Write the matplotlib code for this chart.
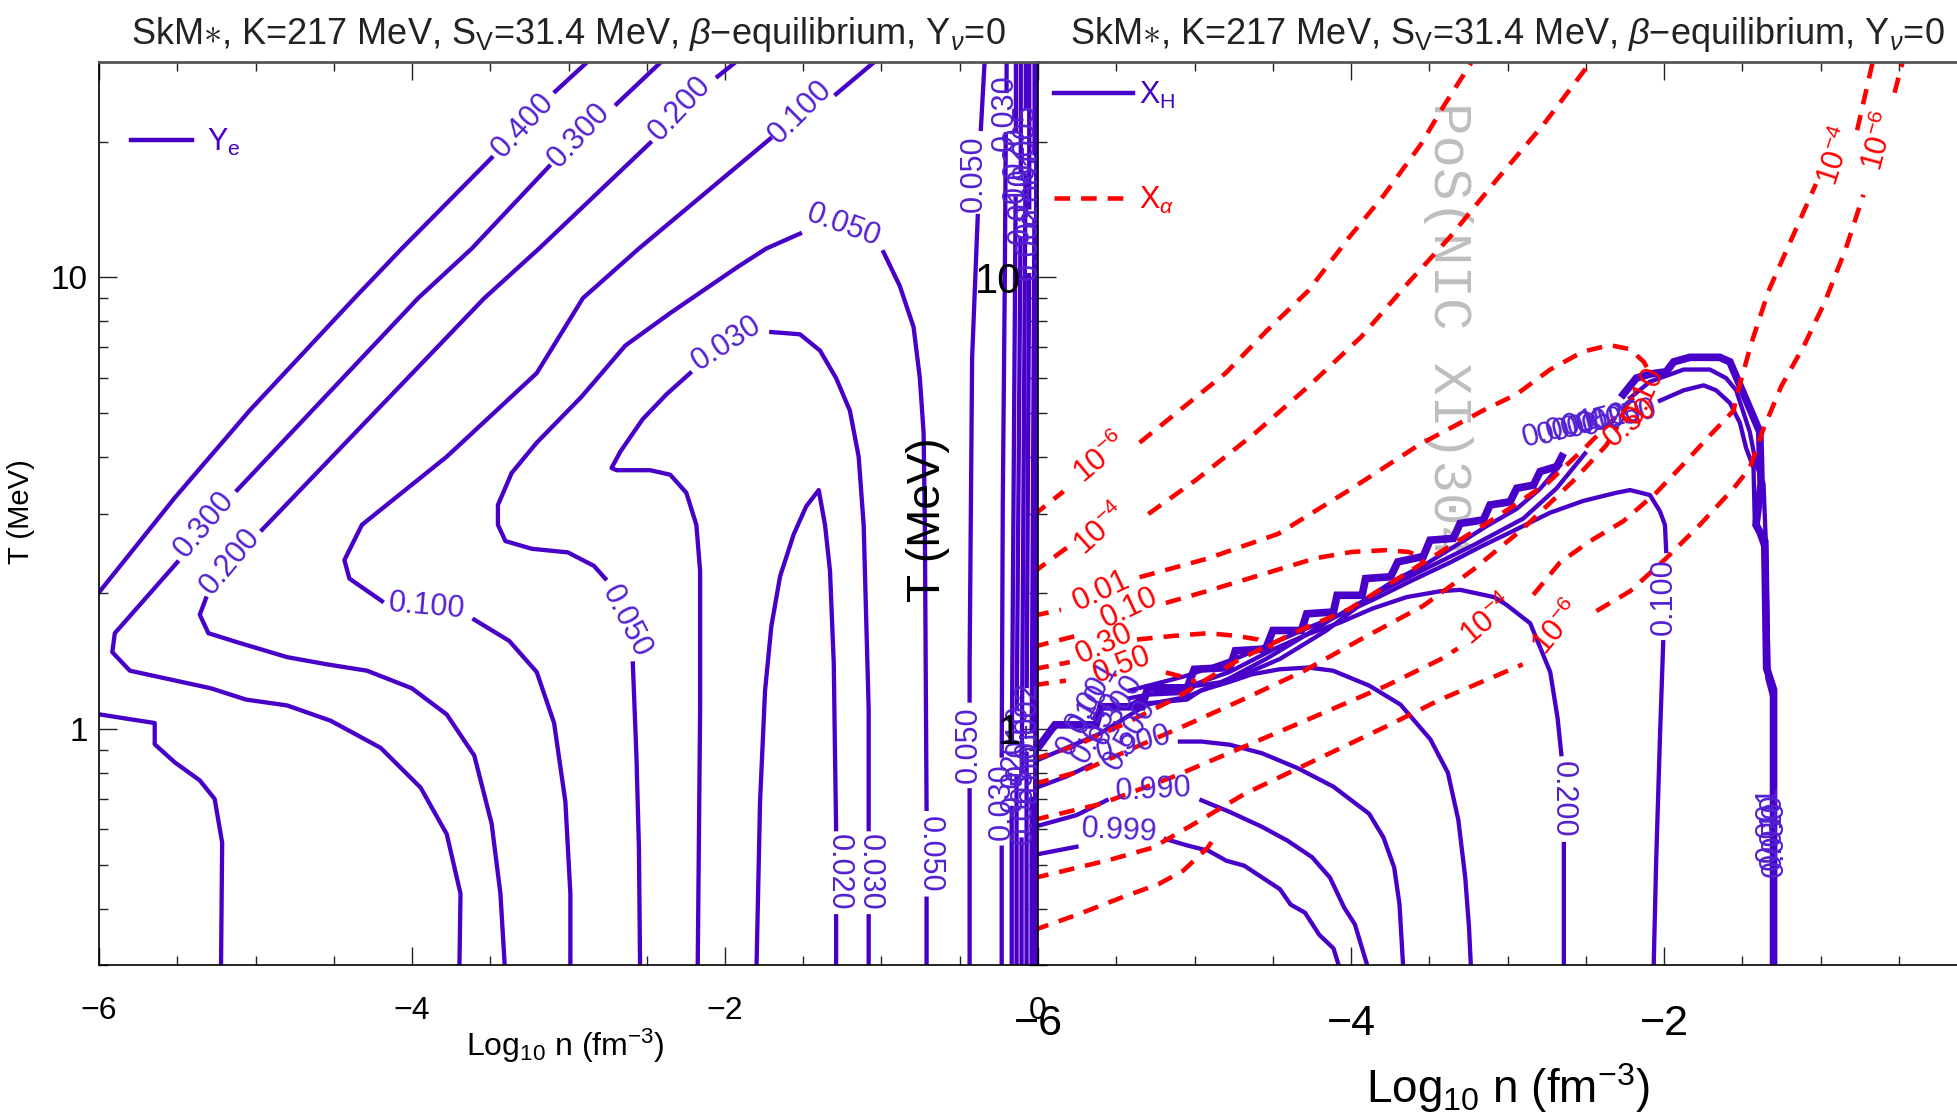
import numpy as np
import matplotlib
matplotlib.use("Agg")
import matplotlib.pyplot as plt
from matplotlib import font_manager
from matplotlib.lines import Line2D
from matplotlib.ticker import FixedLocator, FixedFormatter, MultipleLocator, NullFormatter

nan = np.nan

# ---------------- left panel: Y_e contours (log10 n, log10 T) ----------------
ye_400_n = [-2.81, -2.877, -3.084, nan, -3.491, -4.065, -4.368, -5.038, -5.516, -5.994, -6.05]
ye_400_lt = [1.50, 1.478, 1.412, nan, 1.265, 1.064, 0.954, 0.705, 0.512, 0.305, 0.281]

ye_300_n = [-2.34, -2.406, -2.693, nan, -3.124, -3.618, -3.961, -5.117, nan, -5.5, -5.899, -5.915,
            -5.803, -5.285, -5.061, -4.798, -4.519, -4.200, -3.945, -3.778, -3.690, -3.698]
ye_300_lt = [1.50, 1.478, 1.384, nan, 1.246, 1.064, 0.954, 0.529, nan, 0.369, 0.212, 0.170,
             0.129, 0.090, 0.065, 0.052, 0.018, -0.042, -0.130, -0.233, -0.365, -0.55]

ye_200_n = [-1.85, -1.928, -2.047, nan, -2.478, -3.188, -3.538, -4.958, nan, -5.317, -5.356, -5.301,
            -5.117, -4.798, -4.543, -4.288, -4.001, -3.778, -3.602, -3.491, -3.435, -3.403]
ye_200_lt = [1.50, 1.478, 1.445, nan, 1.298, 1.064, 0.954, 0.441, nan, 0.289, 0.253, 0.212,
             0.192, 0.159, 0.143, 0.129, 0.090, 0.032, -0.059, -0.210, -0.365, -0.55]

ye_100_n = [-0.968, -1.043, -1.290, nan, -1.712, -2.550, -2.908, -3.203, -3.778, -4.320, -4.432, -4.400,
            -4.192, nan, -3.602, -3.379, -3.203, -3.092, -3.020, -2.988, -2.988]
ye_100_lt = [1.50, 1.478, 1.406, nan, 1.307, 1.064, 0.954, 0.788, 0.603, 0.452, 0.374, 0.333,
             0.283, nan, 0.242, 0.195, 0.126, 0.013, -0.161, -0.365, -0.55]

ye_050_n = [-2.542, -2.550, -2.566, -2.589, nan, -2.765, -2.837, -3.004, -3.235, -3.403, -3.451, -3.451,
            -3.363, -3.203, -2.916, -2.637, -2.350, -1.920, -1.736, -1.521, nan, -0.987, -0.883,
            -0.795, -0.755, -0.731, -0.723, -0.712, nan, -0.712, -0.712]
ye_050_lt = [-0.55, -0.263, -0.059, 0.145, nan, 0.333, 0.361, 0.391, 0.399, 0.416, 0.452, 0.496,
             0.567, 0.634, 0.736, 0.849, 0.921, 1.023, 1.064, 1.097, nan, 1.056, 0.981,
             0.890, 0.777, 0.656, 0.452, -0.177, nan, -0.376, -0.55]

ye_030_n = [-2.175, -2.159, -2.159, -2.183, -2.247, -2.350, -2.478, -2.693, -2.725, -2.669, -2.526,
            -2.374, -2.223, nan, -1.704, -1.521, -1.393, -1.290, -1.202, -1.146, -1.114, -1.098,
            -1.082, -1.082, nan, -1.082, -1.082]
ye_030_lt = [-0.55, 0.043, 0.350, 0.452, 0.523, 0.563, 0.573, 0.573, 0.578, 0.614, 0.686,
             0.741, 0.788, nan, 0.879, 0.874, 0.838, 0.777, 0.705, 0.603, 0.452, 0.247,
             0.043, -0.222, nan, -0.415, -0.55]

ye_020_n = [-1.800, -1.776, -1.744, -1.704, -1.648, -1.561, -1.481, -1.401, -1.361, -1.329, -1.305,
            -1.297, -1.290, nan, -1.290, -1.290]
ye_020_lt = [-0.55, -0.161, 0.085, 0.227, 0.338, 0.431, 0.493, 0.529, 0.452, 0.350, 0.145,
             -0.059, -0.222, nan, -0.415, -0.55]

ye_low_n = [-6.05, -5.994, -5.644, -5.644, -5.516, -5.356, -5.261, -5.213, -5.221]
ye_low_lt = [0.034, 0.032, 0.013, -0.034, -0.074, -0.114, -0.155, -0.252, -0.55]

# near-saturation bundle close to log n = 0
ye_c050_n = [-0.437, -0.437, nan, -0.437, -0.437, -0.421, -0.385, nan, -0.365, -0.341, -0.338]
ye_c050_lt = [-0.55, -0.136, nan, 0.063, 0.145, 0.821, 1.136, nan, 1.329, 1.478, 1.52]
ye_c030_n = [-0.232, -0.232, nan, -0.232, -0.225, -0.212, -0.206, nan, -0.201, -0.200]
ye_c030_lt = [-0.55, -0.263, nan, -0.059, 0.5, 1.0, 1.317, nan, 1.413, 1.52]
ye_c1_n = [-0.168, -0.168, nan, -0.167, -0.143, nan, -0.141, -0.141]
ye_c1_lt = [-0.55, -0.175, nan, -0.025, 1.175, nan, 1.325, 1.52]
ye_c2_n = [-0.137, -0.137, nan, -0.136, -0.112, nan, -0.110, -0.110]
ye_c2_lt = [-0.55, -0.105, nan, 0.045, 1.085, nan, 1.235, 1.52]
ye_c3_n = [-0.105, -0.105, nan, -0.104, -0.080, nan, -0.078, -0.078]
ye_c3_lt = [-0.55, -0.245, nan, -0.095, 1.225, nan, 1.375, 1.52]
ye_c4_n = [-0.073, -0.073, nan, -0.072, -0.057, nan, -0.056, -0.056]
ye_c4_lt = [-0.55, -0.055, nan, 0.095, 1.005, nan, 1.155, 1.52]
ye_c5_n = [-0.041, -0.041, nan, -0.040, -0.023, nan, -0.022, -0.022]
ye_c5_lt = [-0.55, -0.155, nan, -0.005, 1.125, nan, 1.275, 1.52]
ye_c6_n = [-0.020, -0.010]
ye_c6_lt = [-0.55, 1.52]

ye_labels = [
    ("0.400", -3.291, 1.337, 47), ("0.300", -2.932, 1.314, 47), ("0.300", -5.330, 0.452, 50),
    ("0.200", -2.286, 1.373, 47), ("0.200", -5.159, 0.370, 50), ("0.100", -1.521, 1.367, 45),
    ("0.100", -3.905, 0.272, -5), ("0.050", -2.634, 0.237, -63), ("0.050", -1.242, 1.114, -20),
    ("0.050", -0.692, -0.277, -90), ("0.030", -1.991, 0.854, 33), ("0.030", -1.074, -0.318, -90),
    ("0.020", -1.273, -0.318, -90), ("0.050", -0.41, 1.229, 90), ("0.050", -0.44, -0.036, 90),
    ("0.030", -0.215, 1.365, 90), ("0.030", -0.232, -0.161, 90),
    ("0.020", -0.155, -0.10, 90), ("0.020", -0.142, 1.25, 90), ("0.010", -0.125, -0.03, 90),
    ("0.010", -0.111, 1.16, 90), ("0.005", -0.092, -0.17, 90), ("0.005", -0.079, 1.30, 90),
    ("0.002", -0.064, 0.02, 90), ("0.002", -0.056, 1.08, 90), ("0.001", -0.031, -0.08, 90),
    ("0.001", -0.022, 1.20, 90),
]

# ---------------- right panel: X_H (solid) ----------------
xh_999_n = [-6.03, -5.994, -5.754, nan, -5.184, -5.047, -4.910, -4.796, -4.682, -4.568, -4.454,
            -4.386, -4.294, -4.203, -4.112, -4.077, -4.055]
xh_999_lt = [-0.28, -0.277, -0.261, nan, -0.244, -0.258, -0.270, -0.292, -0.303, -0.329, -0.355,
             -0.389, -0.407, -0.456, -0.486, -0.525, -0.55]
xh_990_n = [-6.03, -5.994, -5.754, -5.561, nan, -4.956, -4.774, -4.568, -4.408, -4.249, -4.135,
            -4.043, -3.975, -3.895, -3.88]
xh_990_lt = [-0.217, -0.214, -0.191, -0.158, nan, -0.158, -0.184, -0.217, -0.247, -0.284, -0.329,
             -0.396, -0.433, -0.525, -0.55]
xh_900_n = [-6.03, -5.994, -5.823, -5.663, nan, -5.093, -4.956, -4.774, -4.568, -4.340, -4.112,
            -3.884, -3.793, -3.724, -3.690, -3.667, -3.665]
xh_900_lt = [-0.131, -0.128, -0.106, -0.080, nan, -0.028, -0.028, -0.035, -0.054, -0.087, -0.128,
             -0.188, -0.240, -0.307, -0.389, -0.525, -0.55]
xh_500_n = [-5.415, -5.295, -5.048, -4.960, -4.777, -4.633, -4.458, -4.274, -4.115, -3.884, -3.684,
            -3.493, -3.381, -3.314, -3.270, -3.246, -3.234, -3.233]
xh_500_lt = [0.049, 0.057, 0.065, 0.085, 0.104, 0.121, 0.132, 0.136, 0.129, 0.096, 0.054,
             -0.023, -0.097, -0.202, -0.329, -0.439, -0.525, -0.55]
xh_200_n = [-5.415, -5.048, -4.777, -4.498, -4.282, -4.067, -3.860, -3.644, -3.429, -3.302, -3.086,
            -3.007, -2.855, -2.727, -2.680, -2.656, nan, -2.640, -2.640]
xh_200_lt = [0.068, 0.093, 0.126, 0.176, 0.209, 0.236, 0.267, 0.292, 0.305, 0.308, 0.292,
             0.275, 0.234, 0.126, 0.024, -0.056, nan, -0.255, -0.55]
xh_100_n = [-5.415, -5.048, -4.713, -4.498, -4.282, -4.067, -3.860, -3.621, -3.365, -3.158, -2.943,
            -2.727, -2.516, -2.305, -2.217, -2.090, -2.026, -1.994, -1.986, nan, -2.005, -2.026,
            -2.050, -2.066, -2.067]
xh_100_lt = [0.085, 0.118, 0.159, 0.190, 0.223, 0.253, 0.286, 0.327, 0.369, 0.406, 0.442,
             0.479, 0.505, 0.523, 0.529, 0.518, 0.482, 0.452, 0.394, nan, 0.192, -0.020,
             -0.293, -0.525, -0.55]
# stepped boundary of the heavy-nucleus region (low X_H levels)
xh_edge_n = [-6.03, -5.994, -5.892, -5.629, -5.598, -5.335, -5.298, -5.047, -5.002, -4.774, -4.739,
             -4.546, -4.499, -4.317, -4.283, -4.112, -4.089, -3.929, -3.907, -3.747, -3.701, -3.538,
             -3.495, -3.346, -3.303, -3.154, -3.112, -2.984, -2.941, -2.834, -2.792, -2.686, -2.653,
             nan, -2.260, -2.177, -2.090, -1.986, -1.938, -1.834, -1.643, -1.579, -1.515, -1.388,
             -1.380, -1.412, -1.356, -1.344, -1.300, -1.300]
xh_edge_lt = [-0.045, -0.039, 0.009, 0.009, 0.049, 0.049, 0.091, 0.091, 0.132, 0.136, 0.173,
              0.177, 0.218, 0.218, 0.255, 0.259, 0.296, 0.296, 0.333, 0.337, 0.370, 0.382,
              0.418, 0.422, 0.455, 0.463, 0.496, 0.503, 0.533, 0.540, 0.570, 0.581, 0.603,
              nan, 0.741, 0.777, 0.786, 0.791, 0.813, 0.823, 0.823, 0.813, 0.761, 0.658,
              0.543, 0.452, 0.416, 0.134, 0.087, -0.55]
xh_edge2_n = [-6.03, -5.893, -5.614, -5.303, -5.048, -4.777, -4.538, -4.322, -4.131, -3.924, -3.732,
              -3.517, -3.326, -3.134, -2.943, -2.791, -2.664, nan, -2.217, -2.090, -1.874, -1.707,
              -1.603, -1.539, -1.452, -1.412, -1.364, -1.348, -1.332, -1.300, -1.300]
xh_edge2_lt = [-0.073, -0.053, -0.012, 0.054, 0.071, 0.112, 0.156, 0.201, 0.242, 0.283, 0.327,
               0.366, 0.407, 0.449, 0.487, 0.532, 0.584, nan, 0.733, 0.769, 0.796, 0.796,
               0.777, 0.750, 0.658, 0.587, 0.543, 0.402, 0.126, 0.071, -0.55]
xh_edge3_n = [-5.415, -5.298, -5.047, -5.002, -4.774, -4.682, -4.454, -4.317, -4.157, -3.857, -3.516,
              -3.218, -2.899, -2.686, -2.505, nan, -2.026, -1.874, -1.747, -1.667, -1.579, -1.515,
              -1.476, -1.428, -1.420, -1.364, -1.340, -1.308, -1.308]
xh_edge3_lt = [0.052, 0.076, 0.080, 0.095, 0.106, 0.121, 0.155, 0.184, 0.218, 0.297, 0.356,
               0.407, 0.466, 0.533, 0.610, nan, 0.727, 0.750, 0.761, 0.750, 0.722, 0.678,
               0.623, 0.578, 0.460, 0.402, 0.112, 0.071, -0.55]

xh_labels = [
    ("0.999", -5.481, -0.225, -3), ("0.990", -5.263, -0.136, 3), ("0.900", -5.389, -0.035, 15),
    ("0.200", -2.648, -0.155, -90), ("0.100", -2.002, 0.292, 90),
    ("0.001", -5.654, 0.071, 60), ("0.010", -5.710, 0.021, 60), ("0.050", -5.614, 0.002, 60),
    ("0.300", -5.494, 0.043, 60), ("0.500", -5.415, -0.012, 60),
    ("0.001", -2.664, 0.664, 15), ("0.005", -2.568, 0.669, 15), ("0.010", -2.472, 0.677, 15),
    ("0.020", -2.377, 0.683, 15), ("0.050", -2.281, 0.688, 15),
    ("0.001", -1.332, -0.210, 90), ("0.010", -1.308, -0.227, 90), ("0.050", -1.292, -0.244, 90),
]

# ---------------- right panel: X_alpha (dashed) ----------------
xa_6u_n = [-6.029, -5.997, -5.837, nan, -5.351, -5.104, -4.801, -4.538, -4.274, -4.011, -3.788,
           -3.557, -3.405, -3.238, -3.206]
xa_6u_lt = [0.471, 0.482, 0.526, nan, 0.634, 0.703, 0.788, 0.882, 0.970, 1.089, 1.183,
            1.293, 1.381, 1.472, 1.492]
xa_4u_n = [-6.029, -5.997, -5.813, nan, -5.295, -4.992, -4.617, -4.274, -3.936, -3.637, -3.369,
           -3.070, -2.767, -2.480, -2.432]
xa_4u_lt = [0.344, 0.355, 0.402, nan, 0.476, 0.551, 0.654, 0.758, 0.868, 0.987, 1.089,
            1.216, 1.340, 1.472, 1.494]
xa_01_n = [-6.029, -5.997, -5.853, nan, -5.351, -4.920, -4.466, -4.011, -3.557, -3.333, -3.158,
           -2.943, -2.727, -2.516, -2.345, -2.217, -2.129, -2.090]
xa_01_lt = [0.250, 0.253, 0.264, nan, 0.336, 0.377, 0.432, 0.529, 0.631, 0.672, 0.705,
            0.741, 0.796, 0.836, 0.850, 0.841, 0.813, 0.788]
xa_10_n = [-6.029, -6.005, -5.758, nan, -5.183, -4.912, -4.569, -4.227, -3.995, -3.772, -3.633,
           -3.565, -3.541]
xa_10_lt = [0.181, 0.184, 0.206, nan, 0.279, 0.306, 0.342, 0.378, 0.392, 0.396, 0.392,
            0.383, 0.369]
xa_30_n = [-6.029, -6.005, -5.797, nan, -5.367, -5.136, -4.912, -4.729, -4.593, -4.498]
xa_30_lt = [0.132, 0.134, 0.148, nan, 0.198, 0.206, 0.212, 0.206, 0.198, 0.181]
xa_50_n = [-6.029, -6.005, -5.821, nan, -5.183, -5.072, -4.992]
xa_50_lt = [0.096, 0.098, 0.107, nan, 0.125, 0.115, 0.104]
xa_rim1_n = [-6.029, -5.774, -5.455, -5.136, -4.713, -4.338, -4.019, -3.700, -3.381, -3.062,
             -2.743, -2.504, -2.305, -2.185]
xa_rim1_lt = [-0.067, -0.039, 0.010, 0.065, 0.154, 0.217, 0.264, 0.333, 0.402, 0.471,
              0.545, 0.623, 0.692, 0.738]
xa_rim2_n = [-6.029, -5.973, -5.710, -5.367, -5.024, -4.673, -4.298, -3.940, -3.541, -3.222,
             -2.903, -2.584, -2.369, -2.297]
xa_rim2_lt = [-0.119, -0.117, -0.092, -0.039, 0.013, 0.068, 0.129, 0.198, 0.272, 0.352,
              0.443, 0.548, 0.628, 0.670]
xa_4d_n = [-6.029, -5.997, -5.598, -5.136, -4.681, -4.227, -3.772, -3.429, -3.318, nan, -2.835,
           -2.664, -2.472, -2.260, -2.050, -1.874, -1.707, -1.555, -1.539, -1.444, -1.332, -1.180,
           -1.029, nan, -0.766, -0.670, -0.654]
xa_4d_lt = [-0.202, -0.199, -0.166, -0.106, -0.039, 0.028, 0.096, 0.154, 0.178, nan, 0.297,
            0.369, 0.416, 0.460, 0.523, 0.587, 0.650, 0.705, 0.733, 0.852, 0.970, 1.089,
            1.207, nan, 1.326, 1.472, 1.494]
xa_6d_n = [-6.029, -6.01, -5.542, -5.267, -4.976, -4.681, -4.227, -3.772, -3.429, -2.903, nan,
           -2.432, -2.217, -1.986, -1.771, -1.555, -1.452, -1.367, -1.252, -1.101, -0.973, -0.838,
           -0.726, nan, -0.527, -0.479, -0.463]
xa_6d_lt = [-0.332, -0.329, -0.290, -0.263, -0.205, -0.144, -0.069, 0.006, 0.065, 0.143, nan,
            0.261, 0.305, 0.378, 0.452, 0.533, 0.578, 0.662, 0.758, 0.852, 0.945, 1.064,
            1.183, nan, 1.409, 1.472, 1.494]
xa_low_n = [-6.029, -5.997, -5.738, -5.463, -5.231, -5.072, -4.916, -4.856]
xa_low_lt = [-0.445, -0.442, -0.410, -0.373, -0.344, -0.314, -0.263, -0.233]

xa_labels = [
    (r"10$^{-6}$", -5.598, 0.599, 40), (r"10$^{-4}$", -5.598, 0.441, 42),
    ("0.01", -5.598, 0.305, 25), ("0.10", -5.415, 0.267, 25), ("0.30", -5.574, 0.188, 25),
    ("0.50", -5.463, 0.140, 20), (r"10$^{-4}$", -3.126, 0.239, 40), (r"10$^{-6}$", -2.680, 0.223, 50),
    (r"10$^{-4}$", -0.893, 1.268, 72), (r"10$^{-6}$", -0.614, 1.301, 75),
    ("0.10", -2.129, 0.738, 65), ("0.50", -2.217, 0.678, 40),
]

# ---------------- styling ----------------
installed = {f.name for f in font_manager.fontManager.ttflist}
FONT = "Liberation Sans" if "Liberation Sans" in installed else "DejaVu Sans"
MONO = "Liberation Mono" if "Liberation Mono" in installed else "DejaVu Sans Mono"
plt.rcParams["font.family"] = [FONT, "DejaVu Sans"]
plt.rcParams["mathtext.fontset"] = "custom"
plt.rcParams["mathtext.rm"] = FONT
plt.rcParams["mathtext.it"] = FONT + ":italic"
plt.rcParams["mathtext.bf"] = FONT + ":bold"

PURPLE = "#4800C8"
LABEL_PURPLE = "#5420D2"
RED = "#FF0000"
LW = 3.1
LABEL_SIZE = 22

title = r"SkM$\ast$, K=217 MeV, S$_\mathrm{V}$=31.4 MeV, $\beta$−equilibrium, Y$_\nu$=0"

fig = plt.figure(figsize=(19.57, 11.18), dpi=100)
axL = fig.add_axes([99 / 1957, 153 / 1118, 939 / 1957, 903 / 1118])
axR = fig.add_axes([1038 / 1957, 153 / 1118, 939 / 1957, 903 / 1118])

for ax in (axL, axR):
    ax.set_xlim(-6, 0)
    ax.set_yscale("log")
    ax.set_ylim(0.3, 30)
    ax.xaxis.set_major_locator(FixedLocator([-6, -4, -2, 0]))
    ax.xaxis.set_minor_locator(MultipleLocator(0.5))
    ax.yaxis.set_major_locator(FixedLocator([1, 10]))
    ax.yaxis.set_major_formatter(FixedFormatter(["1", "10"]))
    ax.yaxis.set_minor_locator(FixedLocator([0.3, 0.4, 0.5, 0.6, 0.7, 0.8, 0.9,
                                             2, 3, 4, 5, 6, 7, 8, 9, 20, 30]))
    ax.yaxis.set_minor_formatter(NullFormatter())
    ax.tick_params(which="both", direction="in", top=True, right=True, color="#222222", width=1)
    ax.tick_params(which="major", length=13)
    ax.tick_params(which="minor", length=6.5)
    for sp in ax.spines.values():
        sp.set_linewidth(1.2)
    ax.spines["top"].set_color("#555555")
    ax.spines["top"].set_linewidth(2)
    ax.set_title(title, fontsize=26, pad=13, color="#222222")

# the right panel runs past the page edge, so its last tick stays unlabelled
axR.xaxis.set_major_formatter(FixedFormatter(["−6", "−4", "−2", ""]))

axL.tick_params(axis="x", labelsize=23, pad=22)
axL.tick_params(axis="y", labelsize=24, pad=8)
axR.tick_params(axis="x", labelsize=31, pad=28)
axR.tick_params(axis="y", labelsize=30, pad=12)


def curve(ax, n, lt, **kw):
    ax.plot(n, 10 ** np.asarray(lt, dtype=float), **kw)


def tag(ax, items, color):
    for s, n, lt, rot in items:
        ax.text(n, 10 ** lt, s, rotation=rot, rotation_mode="anchor", ha="center", va="center",
                color=color, fontsize=LABEL_SIZE, clip_on=True)


solid = dict(color=PURPLE, lw=LW, solid_joinstyle="round")
for n, lt in [(ye_400_n, ye_400_lt), (ye_300_n, ye_300_lt), (ye_200_n, ye_200_lt),
              (ye_100_n, ye_100_lt), (ye_050_n, ye_050_lt), (ye_030_n, ye_030_lt),
              (ye_020_n, ye_020_lt), (ye_low_n, ye_low_lt), (ye_c050_n, ye_c050_lt),
              (ye_c030_n, ye_c030_lt), (ye_c1_n, ye_c1_lt), (ye_c2_n, ye_c2_lt),
              (ye_c3_n, ye_c3_lt), (ye_c4_n, ye_c4_lt), (ye_c5_n, ye_c5_lt), (ye_c6_n, ye_c6_lt)]:
    curve(axL, n, lt, **solid)
tag(axL, ye_labels, LABEL_PURPLE)

for n, lt in [(xh_999_n, xh_999_lt), (xh_990_n, xh_990_lt), (xh_900_n, xh_900_lt),
              (xh_500_n, xh_500_lt), (xh_200_n, xh_200_lt), (xh_100_n, xh_100_lt),
              (xh_edge2_n, xh_edge2_lt), (xh_edge3_n, xh_edge3_lt)]:
    curve(axR, n, lt, **solid)
curve(axR, xh_edge_n, xh_edge_lt, color=PURPLE, lw=5.5, solid_joinstyle="miter")

dashed = dict(color=RED, lw=3.3, dashes=(3.4, 2.4))
for n, lt in [(xa_6u_n, xa_6u_lt), (xa_4u_n, xa_4u_lt), (xa_01_n, xa_01_lt), (xa_10_n, xa_10_lt),
              (xa_30_n, xa_30_lt), (xa_50_n, xa_50_lt), (xa_rim1_n, xa_rim1_lt),
              (xa_rim2_n, xa_rim2_lt), (xa_4d_n, xa_4d_lt), (xa_6d_n, xa_6d_lt),
              (xa_low_n, xa_low_lt)]:
    curve(axR, n, lt, **dashed)
tag(axR, xh_labels, LABEL_PURPLE)
tag(axR, xa_labels, RED)

# legends
axL.legend([Line2D([], [], color=PURPLE, lw=3.2)], [r"Y$_\mathrm{e}$"], loc="center left",
           bbox_to_anchor=(31.6 / 939, 822.7 / 903), frameon=False, fontsize=22,
           handlelength=2.0, handletextpad=0.5, borderaxespad=0, borderpad=0, labelcolor=PURPLE)
axR.legend([Line2D([], [], color=PURPLE, lw=3.2),
            Line2D([], [], color=RED, lw=3.3, dashes=(3.4, 2.4))],
           [r"X$_\mathrm{H}$", r"X$_\alpha$"], loc="upper left",
           bbox_to_anchor=(15.6 / 939, 885 / 903), frameon=False, fontsize=22,
           handlelength=2.6, handletextpad=0.2, labelspacing=2.4, borderaxespad=0, borderpad=0,
           labelcolor=[PURPLE, RED])

# axis titles
xlab = r"Log$_{10}$ n (fm$^{-3}$)"
fig.text(565 / 1957, 1 - 1046 / 1118, xlab, ha="center", va="center", fontsize=23)
fig.text(1508 / 1957, 1 - 1088 / 1118, xlab, ha="center", va="center", fontsize=33)
fig.text(21 / 1957, 1 - 512 / 1118, "T (MeV)", rotation=90, ha="center", va="center", fontsize=21)
fig.text(928 / 1957, 1 - 520 / 1118, "T (MeV)", rotation=90, ha="center", va="center", fontsize=33)

axR.text(1448 / 1957, 1 - 330 / 1118, "PoS(NIC XI)304", rotation=-90, ha="center", va="center",
         family=MONO, fontsize=39, color="#BEBEBE", transform=fig.transFigure, zorder=0.5,
         clip_on=False)

fig.savefig("out.png", dpi=100)
